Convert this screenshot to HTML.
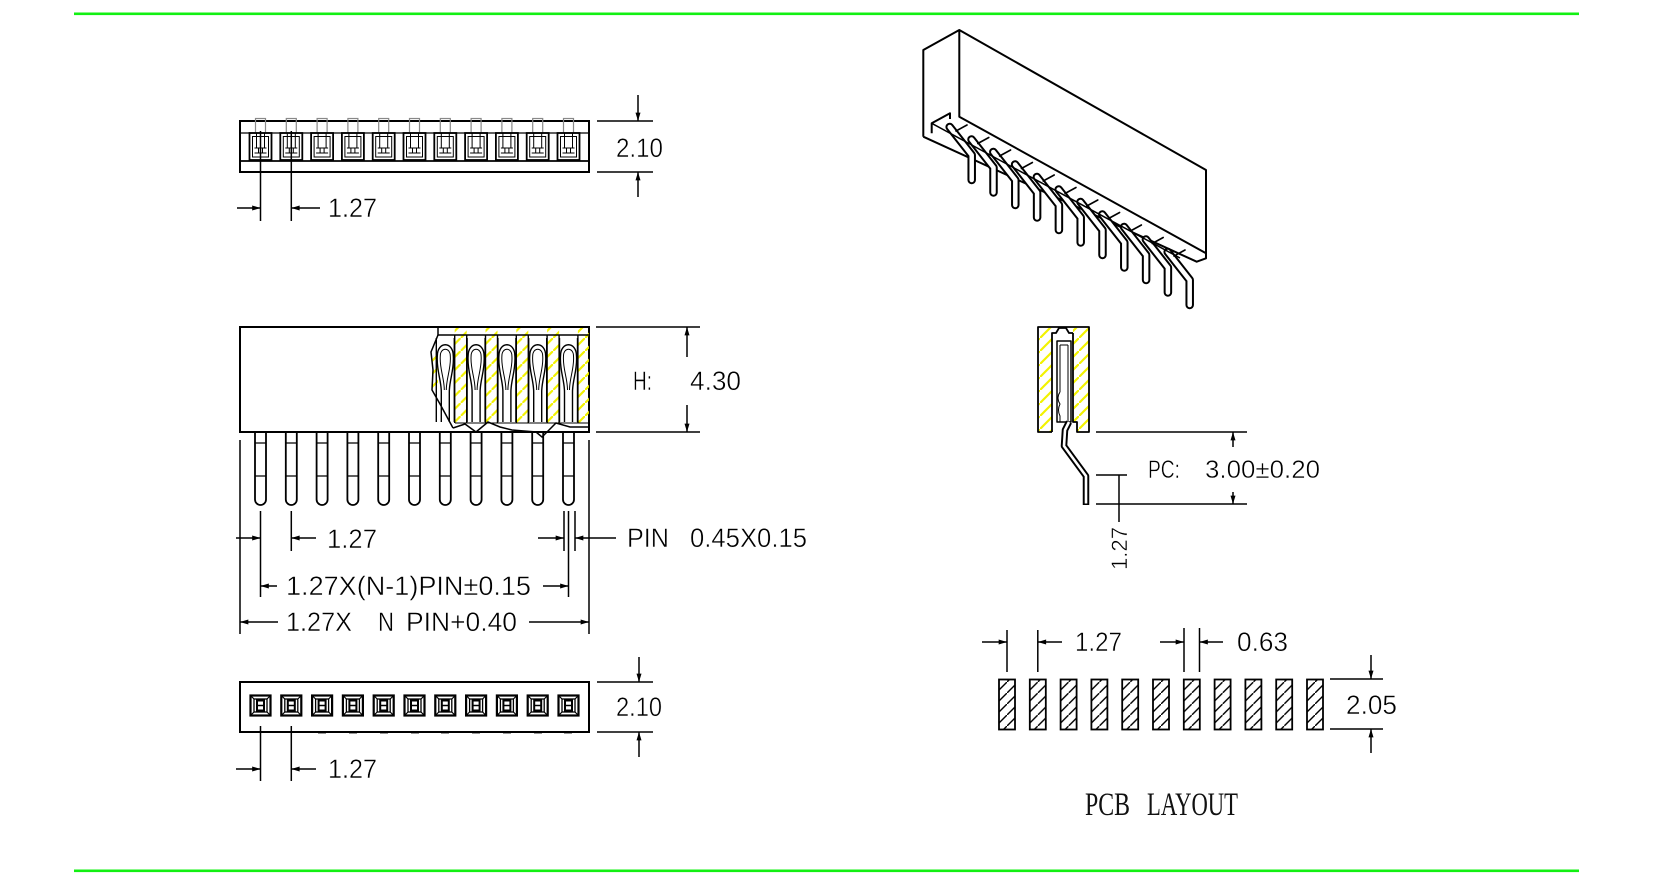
<!DOCTYPE html>
<html><head><meta charset="utf-8"><style>
html,body{margin:0;padding:0;background:#fff;}
svg{display:block;}
text{font-family:"Liberation Sans",sans-serif;fill:#000;stroke:#fff;stroke-width:0.45px;}
</style></head><body>
<svg width="1653" height="888" viewBox="0 0 1653 888" xmlns="http://www.w3.org/2000/svg" xmlns:xlink="http://www.w3.org/1999/xlink">
<defs>
<marker id="ah" viewBox="0 0 10 6" refX="10" refY="3" markerWidth="9" markerHeight="5" markerUnits="userSpaceOnUse" orient="auto"><path d="M0 0L10 3L0 6z" fill="#000"/></marker>
<pattern id="yh" patternUnits="userSpaceOnUse" width="13" height="13"><line x1="-1" y1="14" x2="14" y2="-1" stroke="#f2f200" stroke-width="2.2"/></pattern>
<pattern id="bh" patternUnits="userSpaceOnUse" width="11" height="11"><line x1="-1" y1="12" x2="12" y2="-1" stroke="#000" stroke-width="1.4"/></pattern>
<g id="slot" fill="none" stroke="#000">
 <rect x="-5" y="118.5" width="10" height="14.5" stroke="#888" stroke-width="1.2"/>
 <rect x="-11" y="133" width="22" height="27" stroke-width="1.8"/>
 <rect x="-8" y="136.5" width="16" height="20.5" stroke-width="1"/>
 <path d="M-4 133V148M4 133V148" stroke-width="1"/>
 <path d="M-6 148H6M-6 153H6M-2 148V153M2 148V153" stroke-width="1"/>
</g>
<g id="pin" fill="none" stroke="#000" stroke-width="1.8">
 <path d="M-5.5 433V499.5A5.5 5.5 0 0 0 5.5 499.5V433"/>
 <path d="M-5.5 443H5.5M-5.5 476H5.5" stroke-width="1.3"/>
</g>
<g id="sq" fill="none" stroke="#000">
 <rect x="-10" y="695.5" width="20" height="20" stroke-width="2.2"/>
 <rect x="-6.5" y="699" width="13" height="13" stroke-width="1.3"/>
 <path d="M-10 695.5L-6.5 699M10 695.5L6.5 699M-10 715.5L-6.5 712M10 715.5L6.5 712" stroke-width="1.2"/>
 <rect x="-3.5" y="700.5" width="7" height="10" stroke-width="2"/>
 <path d="M-3.5 705.5H3.5" stroke-width="1.5"/>
</g>
<g id="ct" fill="none" stroke="#000" stroke-width="1.4">
 <path d="M-9 338V422M9 338V422"/>
 <path d="M-8 356C-8 341 8 341 8 356"/>
 <path d="M-8 356C-9 370 -4 380 -4 392V422M8 356C9 370 4 380 4 392V422"/>
 <path d="M-5 356C-5 347 5 347 5 356M-5 356C-6 368 -1 378 -1 390M5 356C6 368 1 378 1 390" stroke-width="1"/>
</g>
<g id="wall">
 <rect x="-6" y="328" width="12" height="95" fill="url(#yh)"/>
 <path d="M-6 335V423M6 335V423" stroke="#000" stroke-width="1.4" fill="none"/>
</g>
<g id="p3d" fill="none" stroke-linejoin="round" stroke-linecap="round">
 <path d="M949.7 127L971.7 155V180" stroke="#000" stroke-width="8.5"/>
 <path d="M949.7 127L971.7 155V180" stroke="#fff" stroke-width="4.5"/>
 <path d="M956 131L967 125" stroke="#000" stroke-width="1.6"/>
</g>
<g id="pad"><rect x="-8" y="679.5" width="16" height="50" fill="url(#bh)" stroke="#000" stroke-width="1.8"/></g>
</defs>
<rect width="1653" height="888" fill="#fff"/>

<!-- green frame lines -->
<rect x="74" y="12.5" width="1505" height="2.6" fill="#12f012"/>
<rect x="74" y="869.5" width="1505" height="2.6" fill="#12f012"/>

<!-- ===== TOP VIEW ===== -->
<g fill="none" stroke="#000">
 <rect x="240" y="121" width="349" height="51" stroke-width="2"/>
 <path d="M240 133H589" stroke-width="1.2"/>
 <path d="M240 161H589" stroke-width="1.8"/>
</g>
<use xlink:href="#slot" x="260.5"/><use xlink:href="#slot" x="291.3"/><use xlink:href="#slot" x="322.1"/><use xlink:href="#slot" x="352.9"/><use xlink:href="#slot" x="383.7"/><use xlink:href="#slot" x="414.5"/><use xlink:href="#slot" x="445.3"/><use xlink:href="#slot" x="476.1"/><use xlink:href="#slot" x="506.9"/><use xlink:href="#slot" x="537.7"/><use xlink:href="#slot" x="568.5"/>
<g fill="none" stroke="#000" stroke-width="1.5">
 <path d="M597 121H653M597 172H653"/>
 <path d="M260.5 131V221M291.3 131V221"/>
 <path d="M638 95V121" marker-end="url(#ah)"/>
 <path d="M638 197V172" marker-end="url(#ah)"/>
 <path d="M237 208H260.5" marker-end="url(#ah)"/>
 <path d="M320 208H291.3" marker-end="url(#ah)"/>
</g>
<text x="616" y="157" font-size="27" textLength="47" lengthAdjust="spacingAndGlyphs">2.10</text>
<text x="328" y="217" font-size="27" textLength="49" lengthAdjust="spacingAndGlyphs">1.27</text>

<!-- ===== FRONT VIEW ===== -->
<rect x="240" y="327" width="349" height="105" fill="#fff" stroke="#000" stroke-width="2"/>
<use xlink:href="#wall" x="460.7"/><use xlink:href="#wall" x="491.5"/><use xlink:href="#wall" x="522.3"/><use xlink:href="#wall" x="553.1"/>
<rect x="577.9" y="328" width="11" height="95" fill="url(#yh)"/>
<path d="M577.9 335V423" stroke="#000" stroke-width="1.4"/>
<rect x="432" y="350" width="6" height="42" fill="url(#yh)"/>
<use xlink:href="#ct" x="445.3"/><use xlink:href="#ct" x="476.1"/><use xlink:href="#ct" x="506.9"/><use xlink:href="#ct" x="537.7"/><use xlink:href="#ct" x="568.5"/>
<g fill="none" stroke="#000" stroke-width="1.5">
 <path d="M438 327V335H589"/>
 <path d="M438 335L431 352L433 370L432 390L440 404L453 428"/>
 <path d="M453 428L465 424L476 432L488 422L500 427L512 430L524 431L536 432L542 437L548 431L556 423L570 427L589 427"/>
 <path d="M455 423H589" stroke-width="1"/>
</g>
<use xlink:href="#pin" x="260.5"/><use xlink:href="#pin" x="291.3"/><use xlink:href="#pin" x="322.1"/><use xlink:href="#pin" x="352.9"/><use xlink:href="#pin" x="383.7"/><use xlink:href="#pin" x="414.5"/><use xlink:href="#pin" x="445.3"/><use xlink:href="#pin" x="476.1"/><use xlink:href="#pin" x="506.9"/><use xlink:href="#pin" x="537.7"/><use xlink:href="#pin" x="568.5"/>
<g fill="none" stroke="#000" stroke-width="1.5">
 <path d="M596 327H700M596 432H700"/>
 <path d="M240 440V634M589 440V634M260.5 511V597M291.3 511V551M564 511V551M575 511V551M568.5 511V597"/>
</g>
<g stroke="#000" stroke-width="1.5" fill="none">
 <path d="M687 357V327" marker-end="url(#ah)"/>
 <path d="M687 405V432" marker-end="url(#ah)"/>
 <path d="M236 538H260.5" marker-end="url(#ah)"/>
 <path d="M316 538H291.3" marker-end="url(#ah)"/>
 <path d="M538 538H564" marker-end="url(#ah)"/>
 <path d="M616 538H575" marker-end="url(#ah)"/>
 <path d="M277 586H260.5" marker-end="url(#ah)"/>
 <path d="M543 586H568.5" marker-end="url(#ah)"/>
 <path d="M278 622H240" marker-end="url(#ah)"/>
 <path d="M529 622H589" marker-end="url(#ah)"/>
</g>
<text x="633" y="390" font-size="27" textLength="19" lengthAdjust="spacingAndGlyphs">H:</text>
<text x="690" y="390" font-size="27" textLength="51" lengthAdjust="spacingAndGlyphs">4.30</text>
<text x="327" y="548" font-size="27" textLength="50" lengthAdjust="spacingAndGlyphs">1.27</text>
<text x="627" y="547" font-size="27" textLength="42" lengthAdjust="spacingAndGlyphs">PIN</text>
<text x="690" y="547" font-size="27" textLength="117" lengthAdjust="spacingAndGlyphs">0.45X0.15</text>
<text x="286" y="595" font-size="27" textLength="245" lengthAdjust="spacingAndGlyphs">1.27X(N-1)PIN±0.15</text>
<text x="286" y="631" font-size="27" textLength="66" lengthAdjust="spacingAndGlyphs">1.27X</text>
<text x="378" y="631" font-size="27" textLength="16" lengthAdjust="spacingAndGlyphs">N</text>
<text x="406" y="631" font-size="27" textLength="111" lengthAdjust="spacingAndGlyphs">PIN+0.40</text>

<!-- ===== BOTTOM VIEW ===== -->
<rect x="240" y="682" width="349" height="50" fill="none" stroke="#000" stroke-width="2"/>
<use xlink:href="#sq" x="260.5"/><use xlink:href="#sq" x="291.3"/><use xlink:href="#sq" x="322.1"/><use xlink:href="#sq" x="352.9"/><use xlink:href="#sq" x="383.7"/><use xlink:href="#sq" x="414.5"/><use xlink:href="#sq" x="445.3"/><use xlink:href="#sq" x="476.1"/><use xlink:href="#sq" x="506.9"/><use xlink:href="#sq" x="537.7"/><use xlink:href="#sq" x="568.5"/>
<path d="M318 733.5h8M349 733.5h8M380 733.5h8M411 733.5h8M441 733.5h8M472 733.5h8M503 733.5h8M534 733.5h8M564 733.5h8" stroke="#999" stroke-width="1"/>
<g fill="none" stroke="#000" stroke-width="1.5">
 <path d="M597 682H653M597 732H653"/>
 <path d="M260.5 726V781M291.3 726V781"/>
 <path d="M639 657V682" marker-end="url(#ah)"/>
 <path d="M639 757V732" marker-end="url(#ah)"/>
 <path d="M236 769H260.5" marker-end="url(#ah)"/>
 <path d="M316 769H291.3" marker-end="url(#ah)"/>
</g>
<text x="616" y="716" font-size="27" textLength="46" lengthAdjust="spacingAndGlyphs">2.10</text>
<text x="328" y="778" font-size="27" textLength="49" lengthAdjust="spacingAndGlyphs">1.27</text>

<!-- ===== 3D VIEW ===== -->
<g fill="none" stroke="#000" stroke-width="2" stroke-linejoin="round">
 <path d="M923.3 136.7V50L959.3 30L1206 170V258.3L1196.7 261.7L923.3 136.7"/>
 <path d="M959.3 30V116.7L1206 253.3"/>
 <path d="M931.7 133.3V123.3L950 113.3V119"/>
</g>
<use xlink:href="#p3d"/>
<use xlink:href="#p3d" x="21.8" y="12.5"/>
<use xlink:href="#p3d" x="43.6" y="25"/>
<use xlink:href="#p3d" x="65.4" y="37.5"/>
<use xlink:href="#p3d" x="87.2" y="50"/>
<use xlink:href="#p3d" x="109" y="62.5"/>
<use xlink:href="#p3d" x="130.8" y="75"/>
<use xlink:href="#p3d" x="152.6" y="87.5"/>
<use xlink:href="#p3d" x="174.4" y="100"/>
<use xlink:href="#p3d" x="196.2" y="112.5"/>
<use xlink:href="#p3d" x="218" y="125"/>
<path d="M931.7 123.3L1180 258" fill="none" stroke="#000" stroke-width="1.5"/>

<!-- ===== SIDE VIEW ===== -->
<rect x="1039" y="328" width="13" height="104" fill="url(#yh)"/>
<rect x="1073" y="328" width="16" height="94" fill="url(#yh)"/>
<rect x="1077" y="422" width="12" height="10" fill="url(#yh)"/>
<g fill="none" stroke="#000" stroke-width="1.8" stroke-linejoin="round">
 <path d="M1052 432H1038V327H1089V432H1077V422H1073V333"/>
 <path d="M1052 432V333H1056L1059 328H1066L1069 333H1073"/>
 <rect x="1057" y="341" width="14" height="81" stroke-width="1.5"/>
 <path d="M1060 345H1068M1060 345V392M1068 345V422" stroke-width="1"/>
 <path d="M1060 392Q1056 398 1060 404Q1057 410 1060 416V422" stroke-width="1"/>
</g>
<path d="M1069 422L1065 430L1064 446L1086 476V505" fill="none" stroke="#000" stroke-width="6.5" stroke-linejoin="round"/>
<path d="M1069 422L1065 430L1064 446L1086 476V503.5" fill="none" stroke="#fff" stroke-width="2.6" stroke-linejoin="round"/>
<g fill="none" stroke="#000" stroke-width="1.5">
 <path d="M1096 432H1247M1096 504H1247M1096 475H1127M1119 475V522"/>
 <path d="M1233 447V432" marker-end="url(#ah)"/>
 <path d="M1233 492V504" marker-end="url(#ah)"/>
</g>
<text x="1148" y="478" font-size="25" textLength="32" lengthAdjust="spacingAndGlyphs">PC:</text>
<text x="1205" y="478" font-size="25" textLength="115" lengthAdjust="spacingAndGlyphs">3.00±0.20</text>
<text x="0" y="0" font-size="22" textLength="43" lengthAdjust="spacingAndGlyphs" transform="translate(1127 570) rotate(-90)">1.27</text>

<!-- ===== PCB LAYOUT ===== -->
<use xlink:href="#pad" x="1007"/><use xlink:href="#pad" x="1037.8"/><use xlink:href="#pad" x="1068.6"/><use xlink:href="#pad" x="1099.4"/><use xlink:href="#pad" x="1130.2"/><use xlink:href="#pad" x="1161"/><use xlink:href="#pad" x="1191.8"/><use xlink:href="#pad" x="1222.6"/><use xlink:href="#pad" x="1253.4"/><use xlink:href="#pad" x="1284.2"/><use xlink:href="#pad" x="1315"/>
<g fill="none" stroke="#000" stroke-width="1.5">
 <path d="M1007 630V672M1037.8 630V672M1184 628V672M1199.5 628V672"/>
 <path d="M1330 679H1383M1330 729H1383"/>
 <path d="M982 642H1007" marker-end="url(#ah)"/>
 <path d="M1062 642H1037.8" marker-end="url(#ah)"/>
 <path d="M1160 642H1184" marker-end="url(#ah)"/>
 <path d="M1223 642H1199.5" marker-end="url(#ah)"/>
 <path d="M1371 655V679" marker-end="url(#ah)"/>
 <path d="M1371 753V729" marker-end="url(#ah)"/>
</g>
<text x="1075" y="651" font-size="27" textLength="47" lengthAdjust="spacingAndGlyphs">1.27</text>
<text x="1237" y="651" font-size="27" textLength="51" lengthAdjust="spacingAndGlyphs">0.63</text>
<text x="1346" y="714" font-size="27" textLength="51" lengthAdjust="spacingAndGlyphs">2.05</text>
<text x="1085" y="815" font-size="33" textLength="45" lengthAdjust="spacingAndGlyphs" style="font-family:'Liberation Serif',serif;fill:#111;stroke:none">PCB</text>
<text x="1147" y="815" font-size="33" textLength="91" lengthAdjust="spacingAndGlyphs" style="font-family:'Liberation Serif',serif;fill:#111;stroke:none">LAYOUT</text>
</svg>
</body></html>
